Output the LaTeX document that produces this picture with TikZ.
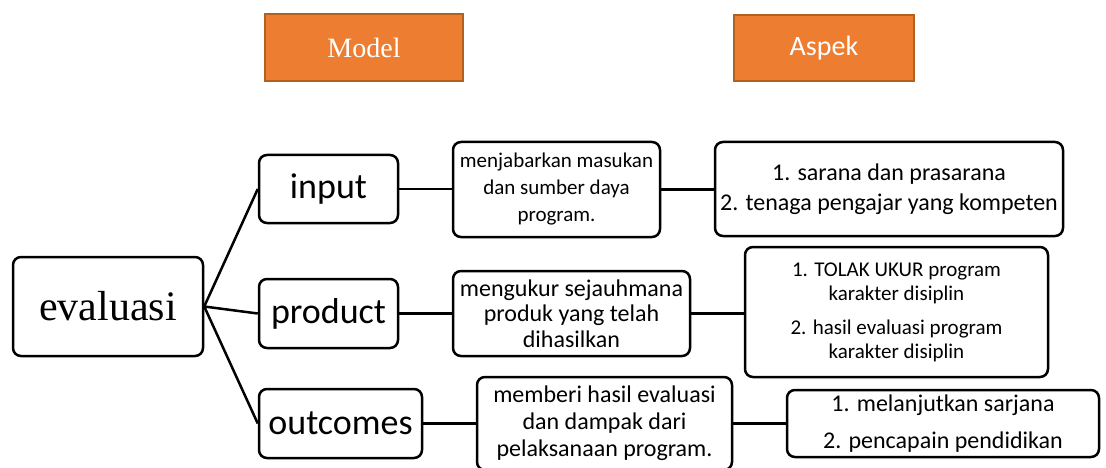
\documentclass[tikz,border=0pt]{standalone}
\usepackage{fontspec}
\setmainfont{Liberation Serif}
\newfontfamily\calibri{Carlito}
\usetikzlibrary{positioning}
\definecolor{orangefill}{HTML}{ED7D31}
\definecolor{orangeline}{HTML}{B0601F}

\begin{document}
\begin{tikzpicture}[x=1pt,y=-1pt,
    box/.style={draw,rounded corners=8pt,line width=2.5pt,inner sep=0pt,align=center},
    head/.style={draw=orangeline,fill=orangefill,line width=2.5pt,text=white,inner sep=0pt},
    big/.style={font=\calibri\fontsize{36}{40}\selectfont},
    small/.style={font=\calibri\fontsize{24}{27}\selectfont},
    tiny/.style={font=\calibri\fontsize{21}{24}\selectfont},
    link/.style={line width=2.5pt}]
    \useasboundingbox (0,0) rectangle (1106,468);
    % headers
    \node[head,minimum width=198pt,minimum height=67pt,font=\fontsize{28}{32}\selectfont] (model) at (364,47.5) {Model};
    \node[head,minimum width=180pt,minimum height=66pt,font=\calibri\fontsize{28}{32}\selectfont] (aspek) at (824,48) {Aspek};
    % model
    \node[box,minimum width=190pt,minimum height=99pt,font=\fontsize{42}{46}\selectfont] (evaluasi) at (108,306.5) {evaluasi};
    \node[box,big,minimum width=139pt,minimum height=68pt] (input) at (328.5,189) {input};
    \node[box,big,minimum width=139pt,minimum height=69pt] (product) at (328.5,313.5) {product};
    \node[box,big,minimum width=163pt,minimum height=69pt] (outcomes) at (340.5,423.5) {outcomes};
    % descriptions
    \node[box,tiny,font=\calibri\fontsize{21}{27}\selectfont,minimum width=207pt,minimum height=95pt] (descinput) at (556.5,189.5) {menjabarkan masukan\\dan sumber daya\\program.};
    \node[box,small,font=\calibri\fontsize{24}{25.5}\selectfont,minimum width=237pt,minimum height=85pt] (descproduct) at (571.5,313.5) {mengukur sejauhmana\\produk yang telah\\dihasilkan};
    \node[box,small,minimum width=255pt,minimum height=93pt] (descoutcomes) at (604.5,423.5) {memberi hasil evaluasi\\dan dampak dari\\pelaksanaan program.};
    % aspects
    \node[box,small,minimum width=348pt,minimum height=94pt] (aspinput) at (889,189) {1. sarana dan prasarana\\[3pt]2. tenaga pengajar yang kompeten};
    \node[box,tiny,minimum width=303pt,minimum height=130pt] (aspproduct) at (896.5,312) {1. TOLAK UKUR program\\karakter disiplin\\[10pt]2. hasil evaluasi program\\karakter disiplin};
    \node[box,small,minimum width=312pt,minimum height=67pt] (aspoutcomes) at (943,423.5) {1. melanjutkan sarjana\\[10pt]2. pencapain pendidikan};
    % connectors
    \draw[link] (evaluasi.east) -- (input.west);
    \draw[link] (evaluasi.east) -- (product.west);
    \draw[link] (evaluasi.east) -- (outcomes.west);
    \draw[link] (input.east) -- (input.east -| descinput.west);
    \draw[link] (product.east) -- (product.east -| descproduct.west);
    \draw[link] (outcomes.east) -- (outcomes.east -| descoutcomes.west);
    \draw[link] (descinput.east) -- (descinput.east -| aspinput.west);
    \draw[link] (descproduct.east) -- (descproduct.east -| aspproduct.west);
    \draw[link] (descoutcomes.east) -- (descoutcomes.east -| aspoutcomes.west);
\end{tikzpicture}
\end{document}
